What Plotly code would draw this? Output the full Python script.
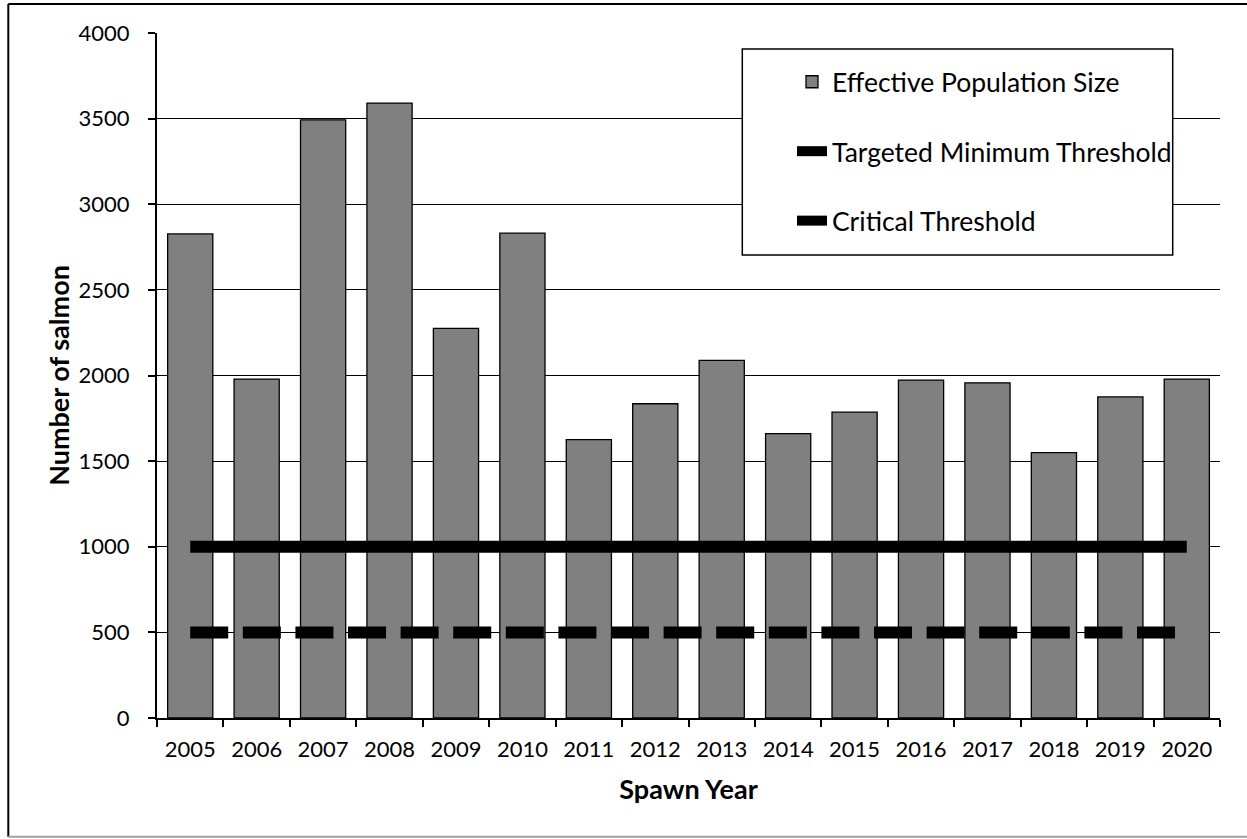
import plotly.graph_objects as go

years = ["2005", "2006", "2007", "2008", "2009", "2010", "2011", "2012",
         "2013", "2014", "2015", "2016", "2017", "2018", "2019", "2020"]
effective_size = [2827, 1979, 3493, 3591, 2275, 2831, 1626, 1835,
                  2088, 1661, 1786, 1973, 1957, 1550, 1875, 1979]
targeted_minimum = [1000, 1000, 1000, 1000, 1000, 1000, 1000, 1000,
                    1000, 1000, 1000, 1000, 1000, 1000, 1000, 1000]
critical = [500, 500, 500, 500, 500, 500, 500, 500,
            500, 500, 500, 500, 500, 500, 500, 500]
y_ticks = [0, 500, 1000, 1500, 2000, 2500, 3000, 3500, 4000]

FONT = "Lato, 'Open Sans', sans-serif"

fig = go.Figure()
fig.add_trace(go.Bar(
    x=years, y=effective_size, name="Effective Population Size",
    marker=dict(color="#808080", line=dict(color="black", width=1.3)),
    legendgroup="a",
))
fig.add_trace(go.Scatter(
    x=years, y=targeted_minimum, name="Targeted Minimum Threshold",
    mode="lines", line=dict(color="black", width=12),
    legendgroup="b",
))
fig.add_trace(go.Scatter(
    x=years, y=critical, name="Critical Threshold",
    mode="lines", line=dict(color="black", width=12, dash="38px,14.6px"),
    legendgroup="c",
))

L, R, T, B = 157, 27, 33, 121
W, H = 1247, 839
pw, ph = W - L - R, H - T - B

def px(xp):
    return (xp - L) / pw

def py(yp):
    return 1 - (yp - T) / ph

shapes = [
    # chart-area frame
    dict(type="line", xref="paper", yref="paper", x0=px(8.3), x1=px(8.3), y0=py(836.7), y1=py(4),
         line=dict(color="black", width=2)),
    dict(type="line", xref="paper", yref="paper", x0=px(8.3), x1=px(1260), y0=py(4), y1=py(4),
         line=dict(color="black", width=2)),
    dict(type="line", xref="paper", yref="paper", x0=px(8.3), x1=px(1260), y0=py(836.7), y1=py(836.7),
         line=dict(color="#a0a0a0", width=2)),
    # legend box
    dict(type="rect", xref="paper", yref="paper", layer="above",
         x0=px(742.3), x1=px(1172.7), y0=py(255), y1=py(49),
         fillcolor="white", line=dict(color="black", width=1.5)),
]

fig.update_layout(
    width=W, height=H,
    margin=dict(l=L, r=R, t=T, b=B, pad=0),
    paper_bgcolor="white", plot_bgcolor="white",
    font=dict(family=FONT, color="black", size=22),
    bargap=0.32,
    showlegend=True,
    legend=dict(
        x=px(792), y=py(58), xanchor="left", yanchor="top",
        bgcolor="rgba(0,0,0,0)", borderwidth=0,
        font=dict(family=FONT, size=26.5, color="black"),
        tracegroupgap=32, traceorder="grouped",
    ),
    shapes=shapes,
)
fig.update_xaxes(
    type="category", tickson="boundaries",
    ticks="outside", ticklen=7, tickwidth=1.5, tickcolor="black",
    showline=True, linecolor="black", linewidth=2,
    showgrid=False, ticklabelstandoff=11,
    tickfont=dict(family=FONT, size=22),
    title=dict(text="<b>Spawn Year</b>", font=dict(family=FONT, size=27), standoff=19),
)
fig.update_yaxes(
    range=[0, 4000], tickvals=y_ticks,
    ticks="outside", ticklen=7, tickwidth=1.5, tickcolor="black",
    showline=True, linecolor="black", linewidth=2,
    showgrid=True, gridcolor="black", gridwidth=1,
    zeroline=False, ticklabelstandoff=14,
    tickfont=dict(family=FONT, size=22),
    title=dict(text="<b>Number of salmon</b>", font=dict(family=FONT, size=27), standoff=1),
)

fig.write_html("out.html")
